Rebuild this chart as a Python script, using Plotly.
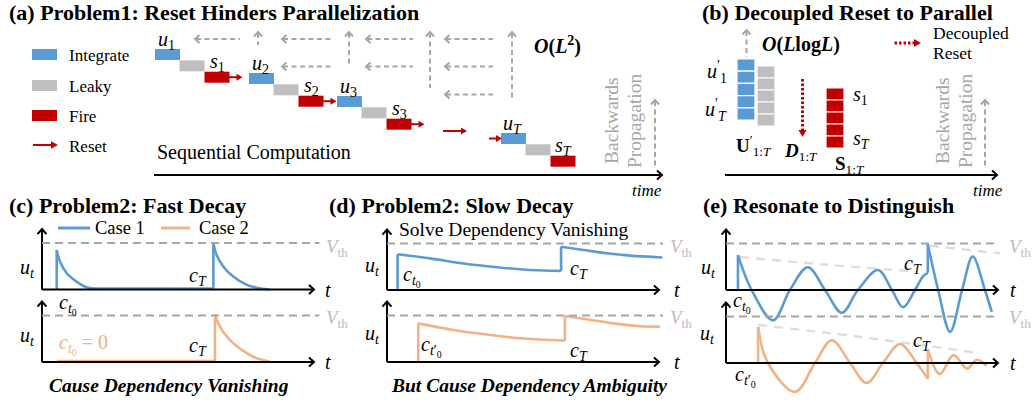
import plotly.graph_objects as go

W, H = 1034, 402
SERIF = "Liberation Serif"

# ===================== data =====================
legend_a = ["Integrate", "Leaky", "Fire", "Reset"]
step_names = ["1", "2", "3", "T"]
legend_c = ["Case 1", "Case 2"]
grad_rows_per_col = [1, 2, 2, 3]          # backward-propagation arrows per column (panel a)
stack_cells = 5                             # cells in each stacked block (panel b)

# curves in local units: t (x-axis length 10), u (V_th = 1)
# (c) fast decay
c_top_rise1_t = [0.54, 0.54];  c_top_rise1_u = [0.00, 0.85]
c_top_decay1_t = [0.54, 0.66, 0.91, 1.27, 1.64, 2.13]
c_top_decay1_u = [0.85, 0.60, 0.35, 0.17, 0.05, 0.02]
c_top_flat_t = [2.13, 6.30];   c_top_flat_u = [0.02, 0.02]
c_top_rise2_t = [6.30, 6.30];  c_top_rise2_u = [0.02, 1.00]
c_top_decay2_t = [6.30, 6.42, 6.67, 7.03, 7.53, 8.04, 8.38]
c_top_decay2_u = [1.00, 0.74, 0.49, 0.28, 0.10, 0.02, 0.00]

c_bot_flat_t = [0.55, 6.36];   c_bot_flat_u = [0.02, 0.02]
c_bot_rise_t = [6.36, 6.36];   c_bot_rise_u = [0.02, 1.02]
c_bot_decay_t = [6.36, 6.54, 6.91, 7.40, 7.89, 8.38]
c_bot_decay_u = [1.02, 0.76, 0.47, 0.24, 0.08, 0.01]

# (d) slow decay
d_top_rise1_t = [0.39, 0.39];  d_top_rise1_u = [0.00, 0.77]
d_top_decay1_t = [0.39, 1.58, 2.81, 4.03, 5.26, 6.40]
d_top_decay1_u = [0.77, 0.68, 0.57, 0.49, 0.43, 0.41]
d_top_rise2_t = [6.40, 6.40];  d_top_rise2_u = [0.41, 0.93]
d_top_decay2_t = [6.40, 7.22, 8.08, 8.93, 10.12]
d_top_decay2_u = [0.93, 0.86, 0.79, 0.74, 0.70]

d_bot_rise1_t = [1.15, 1.15];  d_bot_rise1_u = [0.00, 0.83]
d_bot_decay1_t = [1.15, 2.44, 3.67, 4.89, 6.54]
d_bot_decay1_u = [0.83, 0.69, 0.59, 0.51, 0.46]
d_bot_rise2_t = [6.54, 6.54];  d_bot_rise2_u = [0.46, 0.99]
d_bot_decay2_t = [6.54, 7.34, 8.32, 9.30, 10.04]
d_bot_decay2_u = [0.99, 0.92, 0.83, 0.77, 0.76]

# (e) resonate
e_top_rise1_t = [0.44, 0.44];  e_top_rise1_u = [0.00, 0.75]
e_top_osc1_t = [0.44, 0.94, 1.73, 2.35, 3.01, 3.64, 4.26, 4.85, 5.59, 6.10, 6.51, 6.95, 7.25, 7.42]
e_top_osc1_u = [0.75, 0.00, -0.65, 0.00, 0.49, 0.00, -0.49, 0.00, 0.43, 0.00, -0.37, 0.00, 0.30, 0.37]
e_top_rise2_t = [7.42, 7.42];  e_top_rise2_u = [0.37, 0.99]
e_top_osc2_t = [7.42, 7.80, 8.24, 8.68, 9.07, 9.52, 9.77]
e_top_osc2_u = [0.99, 0.00, -0.90, 0.00, 0.72, 0.00, -0.47]
e_top_env1_t = [0.51, 3.58, 6.69];  e_top_env1_u = [0.71, 0.55, 0.41]
e_top_env2_t = [7.50, 10.07];       e_top_env2_u = [0.95, 0.79]

e_bot_rise1_t = [1.18, 1.18];  e_bot_rise1_u = [0.00, 0.78]
e_bot_osc1_t = [1.18, 1.54, 2.54, 3.27, 3.89, 4.56, 5.17, 5.77, 6.40, 7.01, 7.42]
e_bot_osc1_u = [0.78, 0.00, -0.62, 0.00, 0.49, 0.00, -0.43, 0.00, 0.41, 0.00, -0.34]
e_bot_rise2_t = [7.42, 7.42];  e_bot_rise2_u = [-0.34, 0.30]
e_bot_osc2_t = [7.42, 7.86, 8.36, 8.86, 9.22, 9.58]
e_bot_osc2_u = [0.30, -0.24, 0.17, -0.12, 0.07, -0.06]
e_bot_env_t = [1.18, 4.80, 9.23];  e_bot_env_u = [0.82, 0.57, 0.22]

# ===================== styles / layout constants =====================
BLUE, ORANGE, RED = "#5B9BD5", "#F4B183", "#C00000"
GRAY_BLOCK, DASH_GRAY, ENV_GRAY, VTH_GRAY = "#BFBFBF", "#A6A6A6", "#DEDEDE", "#BDBDBD"
SX, SY = 27.2, 46.5           # px per local unit
T_AXIS, U_AXIS = 10.0, 1.3
plots = {  # local origin in pixels, V_th line length
    "c_top": (42, 289.5, 10.2), "c_bot": (42, 362, 10.2),
    "d_top": (387, 290, 10.15), "d_bot": (387, 362, 10.15),
    "e_top": (726, 290, 9.95), "e_bot": (726, 363, 9.95),
}

fig = go.Figure()
shapes, annos = [], []
layout_axes = {}


def rect(x0, y0, x1, y1, color, line_color=None, lw=0):
    shapes.append(dict(type="rect", xref="x", yref="y", x0=x0, y0=y0, x1=x1, y1=y1,
                       fillcolor=color, line=dict(color=line_color or color, width=lw)))


def seg(x0, y0, x1, y1, color, width, dash=None):
    ln = dict(color=color, width=width)
    if dash:
        ln["dash"] = dash
    shapes.append(dict(type="line", xref="x", yref="y", x0=x0, y0=y0, x1=x1, y1=y1, line=ln))


def text(x, y, s, size=17, color="black", xanchor="center", yanchor="middle", angle=0):
    annos.append(dict(x=x, y=y, xref="x", yref="y", text=s, showarrow=False,
                      font=dict(family=SERIF, size=size, color=color),
                      xanchor=xanchor, yanchor=yanchor, textangle=angle))


def head(xt, yt, ux, uy, length, half, color, width, filled):
    nx, ny = -uy, ux
    bx, by = xt - ux * length, yt - uy * length
    p1 = (bx + nx * half, by + ny * half)
    p2 = (bx - nx * half, by - ny * half)
    path = f"M{p1[0]:.2f},{p1[1]:.2f} L{xt:.2f},{yt:.2f} L{p2[0]:.2f},{p2[1]:.2f}"
    if filled:
        path += " Z"
    shapes.append(dict(type="path", xref="x", yref="y", path=path,
                       fillcolor=color if filled else "rgba(0,0,0,0)",
                       line=dict(color=color, width=0 if filled else width)))


def arrow(x0, y0, x1, y1, color, width, kind="chevron", dash=None, length=None, half=None):
    dx, dy = x1 - x0, y1 - y0
    L = (dx * dx + dy * dy) ** 0.5
    ux, uy = dx / L, dy / L
    if kind == "chevron":
        length = length or 5
        half = half or 4.5
        seg(x1 - ux * 1.0, y1 - uy * 1.0, x0, y0, color, width, dash)
        head(x1, y1, ux, uy, length, half, color, width, False)
    else:
        length = length or 7
        half = half or 3.8
        seg(x1 - ux * (length - 1), y1 - uy * (length - 1), x0, y0, color, width, dash)
        head(x1, y1, ux, uy, length, half, color, width, True)


# pixel overlay axes
layout_axes["xaxis"] = dict(domain=[0, 1], range=[0, W], visible=False, fixedrange=True)
layout_axes["yaxis"] = dict(domain=[0, 1], range=[H, 0], visible=False, fixedrange=True)
fig.add_trace(go.Scatter(x=[], y=[], xaxis="x", yaxis="y", showlegend=False))

# local subplot axes
axid = {}
for i, (key, (ox, oy, vlen)) in enumerate(plots.items(), start=2):
    px0, px1 = ox - 12, min(ox + 300, W)
    py0, py1 = oy - 75, min(oy + 50, H)
    layout_axes[f"xaxis{i}"] = dict(domain=[px0 / W, px1 / W], range=[(px0 - ox) / SX, (px1 - ox) / SX],
                                    visible=False, anchor=f"y{i}", fixedrange=True)
    layout_axes[f"yaxis{i}"] = dict(domain=[1 - py1 / H, 1 - py0 / H], range=[(oy - py1) / SY, (oy - py0) / SY],
                                    visible=False, anchor=f"x{i}", fixedrange=True)
    xr, yr = f"x{i}", f"y{i}"
    axid[key] = (xr, yr)
    # axes arrows (pixel overlay)
    arrow(ox, oy, ox + T_AXIS * SX, oy, "black", 2)
    arrow(ox, oy, ox, oy - U_AXIS * SY, "black", 2)
    # V_th dashed (local units)
    shapes.append(dict(type="line", xref=xr, yref=yr, x0=0, y0=1, x1=vlen, y1=1,
                       line=dict(color=DASH_GRAY, width=2, dash="8px,5px")))


def curve(key, t, u, color, smooth, width=2.6, dash=None):
    xr, yr = axid[key]
    line = dict(color=color, width=width, shape="spline" if smooth else "linear")
    if smooth:
        line["smoothing"] = 1.0
    if dash:
        line["dash"] = dash
    fig.add_trace(go.Scatter(x=t, y=u, mode="lines", line=line, xaxis=xr, yaxis=yr,
                             hoverinfo="skip", showlegend=False))


# envelopes (behind)
curve("e_top", e_top_env1_t, e_top_env1_u, ENV_GRAY, True, 2.4, "9px,7px")
curve("e_top", e_top_env2_t, e_top_env2_u, ENV_GRAY, True, 2.4, "9px,7px")
curve("e_bot", e_bot_env_t, e_bot_env_u, ENV_GRAY, True, 2.4, "9px,7px")

for key, col, segs in [
    ("c_top", BLUE, [(c_top_rise1_t, c_top_rise1_u, 0), (c_top_decay1_t, c_top_decay1_u, 1),
                     (c_top_flat_t, c_top_flat_u, 0), (c_top_rise2_t, c_top_rise2_u, 0),
                     (c_top_decay2_t, c_top_decay2_u, 1)]),
    ("c_bot", ORANGE, [(c_bot_flat_t, c_bot_flat_u, 0), (c_bot_rise_t, c_bot_rise_u, 0),
                       (c_bot_decay_t, c_bot_decay_u, 1)]),
    ("d_top", BLUE, [(d_top_rise1_t, d_top_rise1_u, 0), (d_top_decay1_t, d_top_decay1_u, 1),
                     (d_top_rise2_t, d_top_rise2_u, 0), (d_top_decay2_t, d_top_decay2_u, 1)]),
    ("d_bot", ORANGE, [(d_bot_rise1_t, d_bot_rise1_u, 0), (d_bot_decay1_t, d_bot_decay1_u, 1),
                       (d_bot_rise2_t, d_bot_rise2_u, 0), (d_bot_decay2_t, d_bot_decay2_u, 1)]),
    ("e_top", BLUE, [(e_top_rise1_t, e_top_rise1_u, 0), (e_top_osc1_t, e_top_osc1_u, 1),
                     (e_top_rise2_t, e_top_rise2_u, 0), (e_top_osc2_t, e_top_osc2_u, 1)]),
    ("e_bot", ORANGE, [(e_bot_rise1_t, e_bot_rise1_u, 0), (e_bot_osc1_t, e_bot_osc1_u, 1),
                       (e_bot_rise2_t, e_bot_rise2_u, 0), (e_bot_osc2_t, e_bot_osc2_u, 1)]),
]:
    for t, u, sm in segs:
        curve(key, t, u, col, bool(sm))

GDASH = "5px,3.5px"
TITLE = 22
CT0 = "<i>c</i><sub><i>t</i><sub>0</sub></sub>"
CT0P = "<i>c</i><sub><i>t</i>′<sub>0</sub></sub>"
UT = "<i>u</i><sub><i>t</i></sub>"
CT = "<i>c</i><sub><i>T</i></sub>"
VTH = "<i>V</i><sub>th</sub>"

# ===================== panel (a) =====================
text(7, 12, "<b>(a) Problem1: Reset Hinders Parallelization</b>", TITLE, xanchor="left")
leg_y = [49, 80, 110]
for yy, col, lab in zip(leg_y, [BLUE, GRAY_BLOCK, RED], legend_a[:3]):
    rect(32, yy, 57, yy + 11, col)
    text(67, yy + 6, lab, 17, xanchor="left")
arrow(33, 145, 58, 145, RED, 2, kind="tri")
text(67, 146, legend_a[3], 17, xanchor="left")

BW, BH = 25, 11
blue_pos = [(155, 49), (249, 73), (337, 96), (501, 133)]
for k, (bx, by) in enumerate(blue_pos):
    rect(bx, by, bx + BW, by + BH, BLUE)
    rect(bx + 24.5, by + 11.3, bx + 24.5 + BW, by + 11.3 + BH, GRAY_BLOCK)
    rx, ry = bx + 49.5, by + 22.7
    rect(rx, ry, rx + BW, ry + BH, RED)
    sub = "<i>T</i>" if step_names[k] == "T" else step_names[k]
    text(bx + 11, by - 9, f"<i>u</i><sub>{sub}</sub>", 20)
    text(rx + 13, ry - 9, f"<i>s</i><sub>{sub}</sub>", 20)
    if k < 3:
        arrow(rx + BW - 1, ry + 5.5, rx + BW + 13, ry + 5.5, RED, 2, kind="tri", length=6, half=3.5)
arrow(443, 131, 467, 131, RED, 2, kind="tri", length=6, half=3.5)
arrow(489, 138.5, 502, 138.5, RED, 2, kind="tri", length=6, half=3.5)

text(155, 152, "Sequential Computation", 20, xanchor="left")
arrow(154, 175, 662, 175, "black", 2)
text(647, 190, "<i>time</i>", 17)

col_ranges = [(195, 240), (282, 331), (366, 413), (445, 493)]
row_y = [39, 66.5, 94.5]
vert_x = [258, 349, 430, 512]
vert_bottom = [45, 65, 88, 98]
for (hx0, hx1), nrows, vx, vb in zip(col_ranges, grad_rows_per_col, vert_x, vert_bottom):
    for r in range(nrows):
        arrow(hx1, row_y[r], hx0, row_y[r], DASH_GRAY, 2, dash=GDASH, length=4.5, half=4)
    arrow(vx, vb, vx, 32, DASH_GRAY, 2, dash=GDASH, length=4.5, half=4)

text(557, 45, "<b><i>O</i>(<i>L</i><sup>2</sup>)</b>", 20)
text(611, 121, "Backwards", 19.5, color="#A6A6A6", angle=-90)
text(634, 121, "Propagation", 19.5, color="#A6A6A6", angle=-90)
arrow(655, 166, 655, 100, DASH_GRAY, 2, dash=GDASH, length=4.5, half=4)

# ===================== panel (b) =====================
text(700, 12, "<b>(b) Decoupled Reset to Parallel</b>", TITLE, xanchor="left")
for (sx0, sy0, sy1, col) in [(737, 59, 120, BLUE), (757, 66, 126, GRAY_BLOCK), (826, 88, 148, RED)]:
    ch = (sy1 - sy0) / stack_cells
    for c in range(stack_cells):
        rect(sx0, sy0 + c * ch, sx0 + 18, sy0 + (c + 1) * ch, col, "white", 1.2)
arrow(746.5, 57, 746.5, 30, DASH_GRAY, 2, dash=GDASH, length=4.5, half=4)
text(801, 44, "<b><i>O</i>(<i>L</i>log<i>L</i>)</b>", 20)
text(729, 72, "<i>u</i><sup>′</sup><sub>1</sub>", 20, xanchor="right")
text(729, 110, "<i>u</i><sup>′</sup><sub><i>T</i></sub>", 20, xanchor="right")
text(754, 145, "<b>U</b><sup>′</sup><sub>1:<i>T</i></sub>", 19)
arrow(802.5, 78, 802.5, 137, RED, 3, kind="tri", dash="2.5px,2px", length=7, half=4)
text(801, 152, "<b><i>D</i></b><sub>1:<i>T</i></sub>", 19)
text(851, 95, "<i>s</i><sub>1</sub>", 20, xanchor="left")
text(851, 139, "<i>s</i><sub><i>T</i></sub>", 20, xanchor="left")
text(850, 165, "<b>S</b><sub>1:<i>T</i></sub>", 19)
arrow(893, 43, 921, 43, RED, 3, kind="tri", dash="2.5px,2px", length=7, half=4)
text(931, 33, "Decoupled", 17.5, xanchor="left")
text(931, 53, "Reset", 17.5, xanchor="left")
text(942, 121, "Backwards", 19.5, color="#A6A6A6", angle=-90)
text(965, 121, "Propagation", 19.5, color="#A6A6A6", angle=-90)
arrow(985, 166, 985, 100, DASH_GRAY, 2, dash=GDASH, length=4.5, half=4)
arrow(725, 175, 997, 175, "black", 2)
text(988, 190, "<i>time</i>", 17)

# ===================== panel (c) =====================
text(7, 205, "<b>(c) Problem2: Fast Decay</b>", TITLE, xanchor="left")
seg(58, 228, 90, 228, BLUE, 3)
text(93, 228, legend_c[0], 18.5, xanchor="left")
seg(161, 228, 190, 228, ORANGE, 3)
text(197, 228, legend_c[1], 18.5, xanchor="left")
text(27, 268, UT, 20)
text(27, 336, UT, 20)
text(198, 276, CT, 20)
text(198, 346, CT, 20)
text(68, 304, CT0, 20)
text(57, 344, CT0 + " = 0", 20, color=ORANGE, xanchor="left")
for yv, yt in [(248, 290), (319, 362)]:
    text(337, yv, VTH, 19, color=VTH_GRAY)
    text(328, yt, "<i>t</i>", 20)
text(169, 385, "<b><i>Cause Dependency Vanishing</i></b>", 19.5)

# ===================== panel (d) =====================
text(327, 205, "<b>(d) Problem2: Slow Decay</b>", TITLE, xanchor="left")
text(397, 229, "Solve Dependency Vanishing", 19.5, xanchor="left")
text(372, 266, UT, 20)
text(372, 334, UT, 20)
text(412, 276, CT0, 20)
text(579, 269, CT, 20)
text(431, 346, CT0P, 20)
text(579, 351, CT, 20)
for yv, yt in [(248, 290), (319, 362)]:
    text(681, yv, VTH, 19, color=VTH_GRAY)
    text(677, yt, "<i>t</i>", 20)
text(529, 385, "<b><i>But Cause Dependency Ambiguity</i></b>", 19.5)

# ===================== panel (e) =====================
text(701, 205, "<b>(e) Resonate to Distinguish</b>", TITLE, xanchor="left")
text(708, 268, UT, 20)
text(707, 334, UT, 20)
text(742, 302, CT0, 20)
text(913, 264, CT, 20)
text(745, 376, CT0P, 20)
text(922, 341, CT, 20)
for yv, yt in [(248, 290), (319, 363)]:
    text(1020, yv, VTH, 19, color=VTH_GRAY)
    text(1013, yt, "<i>t</i>", 20)

fig.update_layout(width=W, height=H, margin=dict(l=0, r=0, t=0, b=0),
                  paper_bgcolor="white", plot_bgcolor="rgba(0,0,0,0)",
                  shapes=shapes, annotations=annos, showlegend=False,
                  font=dict(family=SERIF), **layout_axes)

fig.write_html("out.html", config={"displayModeBar": False, "staticPlot": True},
               post_script="document.body.style.margin='0';")
